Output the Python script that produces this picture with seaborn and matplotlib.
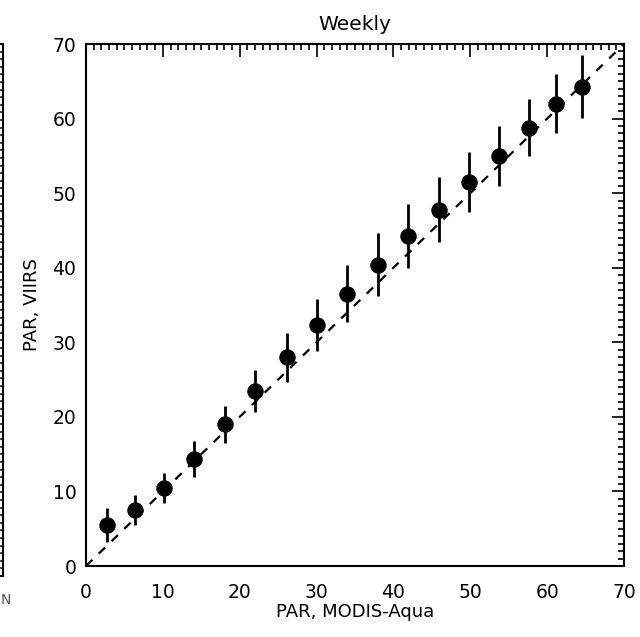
import numpy as np
import pandas as pd
import seaborn as sns
import matplotlib.pyplot as plt
from matplotlib.ticker import MultipleLocator

# Weekly PAR match-ups (bin centres, mean VIIRS, spread)
modis_par = [2.7, 6.4, 10.1, 14.0, 18.1, 22.0, 26.1, 30.0, 33.9, 38.0,
             41.9, 45.9, 49.8, 53.8, 57.7, 61.2, 64.5]
viirs_par = [5.5, 7.5, 10.5, 14.4, 19.0, 23.5, 28.0, 32.3, 36.5, 40.4,
             44.2, 47.8, 51.5, 55.0, 58.8, 62.0, 64.3]
viirs_err = [2.3, 2.0, 2.0, 2.4, 2.5, 2.8, 3.3, 3.5, 3.8, 4.2,
             4.3, 4.3, 4.0, 4.0, 3.8, 4.0, 4.2]
one_to_one = [0, 70]

data = pd.DataFrame({'modis': modis_par, 'viirs': viirs_par, 'err': viirs_err})

sns.set_style('white')
plt.rcParams['font.family'] = ['DejaVu Sans']
plt.rcParams['text.color'] = 'black'
plt.rcParams['axes.labelcolor'] = 'black'

fig = plt.figure(figsize=(6.4, 6.37), dpi=100)
W, H = 640, 637

# sliver of the neighbouring panel on the left
ax0 = fig.add_axes([-0.5, (H - 576) / H, 0.5 + 3 / W, (576 - 44) / H])
ax0.set_xlim(0, 70)
ax0.set_ylim(0, 70)
ax0.yaxis.set_major_locator(MultipleLocator(10))
ax0.yaxis.set_minor_locator(MultipleLocator(1))
ax0.tick_params(axis='y', which='both', direction='in', left=False, right=True,
                labelleft=False, labelright=False, width=1.2)
ax0.tick_params(axis='y', which='major', length=9)
ax0.tick_params(axis='y', which='minor', length=4)
ax0.set_xticks([])
for s in ax0.spines.values():
    s.set_linewidth(1.5)
    s.set_color('black')
fig.text(1 / W, 1 - 600 / H, 'N', ha='left', va='center', fontsize=10,
         color='#555555')

# main panel
ax = fig.add_axes([86 / W, (H - 566) / H, (624 - 86) / W, (566 - 44) / H])

sns.lineplot(x=one_to_one, y=one_to_one, ax=ax, color='black', lw=1.6,
             linestyle=(0, (4, 4)))
ax.errorbar(data['modis'], data['viirs'], yerr=data['err'], fmt='none',
            ecolor='black', elinewidth=2.0, capsize=0)
sns.scatterplot(data=data, x='modis', y='viirs', ax=ax, color='black',
                s=120, edgecolor='black', zorder=3)

ax.set_xlim(0, 70)
ax.set_ylim(0, 70)
for axis in (ax.xaxis, ax.yaxis):
    axis.set_major_locator(MultipleLocator(10))
    axis.set_minor_locator(MultipleLocator(1))
ax.tick_params(which='both', direction='in', top=True, right=True,
               width=1.2, labelsize=13.5, colors='black')
ax.tick_params(which='major', length=9)
ax.tick_params(axis='x', which='major', pad=12)
ax.tick_params(axis='y', which='major', pad=7)
ax.tick_params(which='minor', length=4)
for s in ax.spines.values():
    s.set_linewidth(1.5)
    s.set_color('black')

ax.set_title('Weekly', fontsize=14.5, pad=10)
ax.set_xlabel('PAR, MODIS-Aqua', fontsize=13, labelpad=1)
ax.set_ylabel('PAR, VIIRS', fontsize=13, labelpad=8)

fig.savefig('out.png', dpi=100)
